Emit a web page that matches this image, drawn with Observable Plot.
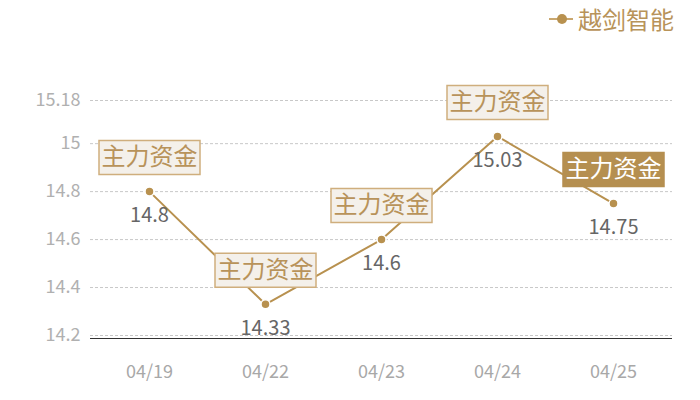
<!DOCTYPE html>
<html><head><meta charset="utf-8">
<script src="https://cdn.jsdelivr.net/npm/d3@7"></script>
<script src="https://cdn.jsdelivr.net/npm/@observablehq/plot@0.6"></script>
<style>
body{margin:0;background:#fff;font-family:"Noto Sans CJK SC",sans-serif;}
#wrap{position:relative;width:700px;height:400px;}
#legend{position:absolute;left:549px;top:2px;display:flex;align-items:center;color:#b8935a;font-size:24px;line-height:34px;}
#legend svg{margin-right:5px;}
</style></head><body>
<div id="wrap"><div id="legend"><svg width="24" height="12"><line x1="0" x2="24" y1="6" y2="6" stroke="#c9a76f" stroke-width="2"/><circle cx="13" cy="6" r="5" fill="#b8914f"/></svg>越剑智能</div><div id="chart"></div></div>
<script>
const dates = ["04/19","04/22","04/23","04/24","04/25"];
const prices = [14.8, 14.33, 14.6, 15.03, 14.75];
const yTicks = [14.2, 14.4, 14.6, 14.8, 15, 15.18];
const tagText = "主力资金";
const highlighted = [false,false,false,false,true];
const seriesName = "越剑智能";

const data = dates.map((d,i)=>({date:d, price:prices[i], hl:highlighted[i]}));
const gold = "#b8914f";
const boxSymbol = {draw(ctx){ ctx.rect(-50.5,-17,101,34); }};

const chart = Plot.plot({
  width:700, height:400,
  marginLeft:90, marginRight:28, marginTop:100, marginBottom:65,
  style:{fontFamily:"'Noto Sans CJK SC',sans-serif", background:"#fff"},
  x:{type:"band", domain:dates, padding:0, label:null, tickSize:0},
  y:{domain:[14.2,15.18], label:null, tickSize:0},
  marks:[
    Plot.gridY(yTicks,{stroke:"#c8c8c8", strokeOpacity:1, strokeDasharray:"3,2"}),
    Plot.axisY(yTicks,{tickSize:0, tickPadding:10, fill:"#b0b0b0", fontSize:18, tickFormat:d=>String(d)}),
    Plot.axisX({tickSize:0, tickPadding:30, fill:"#a8a8a8", fontSize:18}),
    Plot.ruleY([14.2],{stroke:"#333", strokeWidth:1.2, dy:3}),
    Plot.line(data,{x:"date", y:"price", stroke:gold, strokeWidth:2}),
    Plot.dot(data,{x:"date", y:"price", r:4.5, fill:gold, stroke:"#fff", strokeWidth:1.5}),
    Plot.text(data,{x:"date", y:"price", text:d=>String(d.price), dy:24, fill:"#666", fontSize:20}),
    Plot.dot(data,{x:"date", y:"price", symbol:boxSymbol, r:10, dy:-34,
      fill:d=>d.hl?"#b58f50":"#f4f0ea", stroke:d=>d.hl?"#b58f50":"#cfae7d", strokeWidth:1.5}),
    Plot.text(data,{x:"date", y:"price", text:()=>tagText, dy:-34, fontSize:24,
      fill:d=>d.hl?"#fff":"#b8935a"})
  ]
});
document.getElementById("chart").appendChild(chart);
</script>
</body></html>
